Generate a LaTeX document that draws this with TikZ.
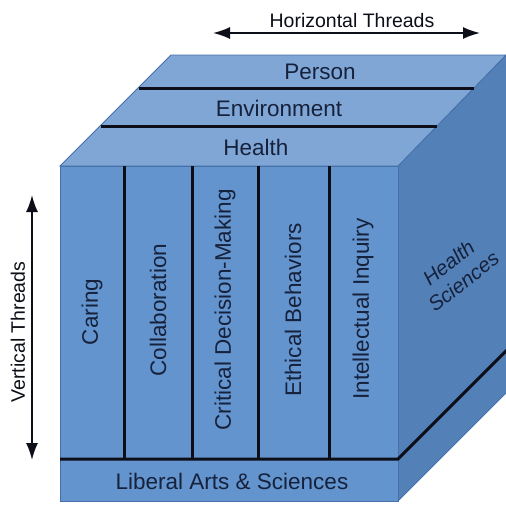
\documentclass[tikz,border=0pt]{standalone}
\usepackage{fontspec}
\setmainfont{Liberation Sans}
\usetikzlibrary{arrows.meta}
\definecolor{topc}{RGB}{128,166,214}
\definecolor{frontc}{RGB}{99,148,206}
\definecolor{rightc}{RGB}{84,128,184}
\definecolor{edgec}{RGB}{70,112,168}
\definecolor{txt}{RGB}{22,34,60}
\definecolor{linec}{RGB}{12,14,24}
\begin{document}
\begin{tikzpicture}[x=1pt,y=-1pt,
  lbl/.style={text=txt, font=\fontsize{22.5}{26}\selectfont, inner sep=0pt},
  thr/.style={text=linec, font=\fontsize{19.5}{23}\selectfont, inner sep=0pt},
  divider/.style={line width=3pt, draw=linec},
  face/.style={draw=edgec, line width=0.8pt, line join=miter},
  dblarrow/.style={line width=1.8pt, draw=linec, {Latex[length=17pt,width=12pt]}-{Latex[length=17pt,width=12pt]}}]
\useasboundingbox (0,0) rectangle (506,504);
\fill[white] (0,0) rectangle (506,504);
\begin{scope}
\clip (0,0) rectangle (506,504);
% right face
\filldraw[face, fill=rightc] (398,166) -- (506,55) -- (512,55) -- (512,387) -- (398,501) -- cycle;
% top face
\filldraw[face, fill=topc] (60,166) -- (398,166) -- (506,55) -- (171,55) -- cycle;
% front face
\filldraw[face, fill=frontc] (60,166) rectangle (398,501);
% top face lines
\draw[divider] (139,88) -- (474,88);
\draw[divider] (101,126) -- (437,126);
% front dividers
\foreach \xx in {124,192,258,329} \draw[divider] (\xx,166) -- (\xx,459);
\draw[divider, line join=miter] (60,459) -- (398,459) -- (512,345);
\end{scope}
% top labels
\node[lbl] (person) at (320,72) {Person};
\node[lbl] (env) at (279,108) {Environment};
\node[lbl] (health) at (256,147) {Health};
% front labels
\node[lbl, rotate=90] (caring) at (92,312) {Caring};
\node[lbl, rotate=90] (collab) at (158,310) {Collaboration};
\node[lbl, rotate=90] (crit) at (225,310) {Critical Decision-Making};
\node[lbl, rotate=90] (eth) at (293,310) {Ethical Behaviors};
\node[lbl, rotate=90] (intel) at (363,309) {Intellectual Inquiry};
\node[lbl] (lib) at (232,481) {Liberal Arts \& Sciences};
% right face label
\node[lbl, rotate=38, align=center, font=\fontsize{20.5}{24}\selectfont\itshape] (hs) at (456,272) {Health\\Sciences};
% threads
\coordinate (hl) at (213,33);
\coordinate (hr) at (480,33);
\draw[dblarrow] (hl) -- (hr);
\node[thr] (hthr) at (352,21) {Horizontal Threads};
\coordinate (vt) at (32,195);
\coordinate (vb) at (32,460);
\draw[dblarrow] (vt) -- (vb);
\node[thr, rotate=90] (vthr) at (18,332) {Vertical Threads};
\end{tikzpicture}
\end{document}
